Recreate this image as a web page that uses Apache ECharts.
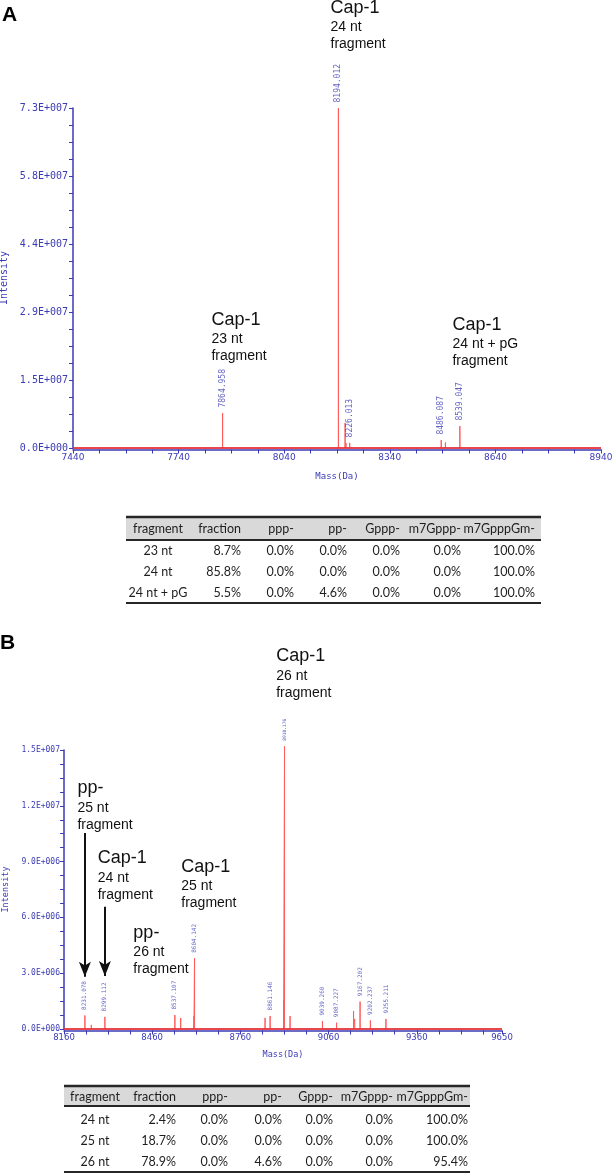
<!DOCTYPE html>
<html><head><meta charset="utf-8">
<script src="https://cdn.jsdelivr.net/npm/echarts@6/dist/echarts.min.js"></script>
<style>html,body{margin:0;padding:0;background:#fff}#c{width:614px;height:1175px}</style>
</head><body><div id="c"></div>
<script>
// ---------------- DATA : panel A ----------------
const massA       = [7864.958, 8194.012, 8213, 8216, 8226.013, 8486.087, 8498, 8539.047];
const intensityA  = [7.5e6,    7.3e7,    5.4e6, 1.0e6, 1.1e6,   1.7e6,    1.2e6, 4.7e6];
const peakLabelsA = ['7864.958','8194.012','','','8226.013','8486.087','','8539.047'];
const xTickLabelsA = ['7440','7740','8040','8340','8640','8940'];
const yTickLabelsA = ['0.0E+000','1.5E+007','2.9E+007','4.4E+007','5.8E+007','7.3E+007'];
const xMinA = 7440, xMaxA = 8940, yMaxA = 7.3e7, yStepA = 1.46e7;

// ---------------- DATA : panel B ----------------
const massB       = [8231.078, 8253, 8299.112, 8537.107, 8557, 8602, 8604.142, 8844, 8861.146, 8907, 8910.176, 8929, 9039.260, 9087.227, 9145, 9149, 9167.202, 9202.237, 9255.211];
const intensityB  = [7.3e5,    2.2e5, 6.5e5,   7.5e5,    5.9e5, 7.0e5, 3.8e6,   6.0e5, 7.0e5,    1.55e6, 1.52e7,  7.0e5, 4.3e5,    3.4e5,    9.7e5, 5.4e5, 1.47e6,   4.6e5,    5.4e5];
const peakLabelsB = ['8231.078','','8299.112','8537.107','','','8604.142','','8861.146','','8910.176','','9039.260','9087.227','','','9167.202','9202.237','9255.211'];
const xTickLabelsB = ['8160','8460','8760','9060','9360','9650'];
const yTickLabelsB = ['0.0E+000','3.0E+006','6.0E+006','9.0E+006','1.2E+007','1.5E+007'];
const xMinB = 8160, xMaxB = 9650, yMaxB = 1.5e7, yStepB = 3e6;

// ---------------- annotation texts ----------------
const annotTextA = [['Cap-1','24 nt','fragment'],['Cap-1','23 nt','fragment'],['Cap-1','24 nt + pG','fragment']];
const annotPeakA = ['8194.012','7864.958','8539.047'];
const annotTextB = [['pp-','25 nt','fragment'],['Cap-1','24 nt','fragment'],['Cap-1','25 nt','fragment'],['pp-','26 nt','fragment'],['Cap-1','26 nt','fragment']];
const annotPeakB = ['8231.078','8299.112','8604.142','8537.107','8910.176'];

// ---------------- tables ----------------
const tableHeader = ['fragment','fraction','ppp-','pp-','Gppp-','m7Gppp-','m7GpppGm-'];
const tableRowsA = [
  ['23 nt','8.7%','0.0%','0.0%','0.0%','0.0%','100.0%'],
  ['24 nt','85.8%','0.0%','0.0%','0.0%','0.0%','100.0%'],
  ['24 nt + pG','5.5%','0.0%','4.6%','0.0%','0.0%','100.0%']
];
const tableRowsB = [
  ['24 nt','2.4%','0.0%','0.0%','0.0%','0.0%','100.0%'],
  ['25 nt','18.7%','0.0%','0.0%','0.0%','0.0%','100.0%'],
  ['26 nt','78.9%','0.0%','4.6%','0.0%','0.0%','95.4%']
];

// ---------------- layout / style (not data) ----------------
const BLUE = '#3b3bb6', PEAK = '#ff5c5c', BASE = '#e1252d', INK = '#111111';
const layoutA = {grid:{left:73, top:108, width:528, height:340}, yFont:10, xFont:9, yName:10, xName:9,
  yNameGap:57, xNameGap:23, yMargin:5, xMargin:4, peakFont:8, peakGap:5,
  annotOffsets:[[-7.4,-110.6],[-10.6,-103.7],[-6.9,-111.7]], arrows:[]};
const layoutB = {grid:{left:64, top:750, width:438, height:279}, yFont:8, xFont:8.5, yName:8.5, xName:8.5,
  yNameGap:47, xNameGap:20, yMargin:4, xMargin:3, peakFont:6, peakGap:5, bigPeakFont:{'8910.176':4.6},
  annotOffsets:[[-7,-237.7],[-6.7,-169],[-12.8,-102],[-41,-92.8],[-7.8,-100.4]],
  arrows:[{peak:'8231.078', from:1.054e7, to:2.81e6},{peak:'8299.112', from:6.575e6, to:2.85e6}]};
const tableLayoutA = {left:126, right:541, top:517, headBottom:540, headCenter:529, firstRow:551, rowH:21, bottom:603, col0:158, colRight:[241,294,347,400,461,535]};
const tableLayoutB = {left:64, right:470, top:1086, headBottom:1106, headCenter:1097, firstRow:1120, rowH:21, bottom:1172, col0:95, colRight:[176,228,282,333,393,468]};

const grids = [], xAxes = [], yAxes = [], series = [];

function buildPanel(gi, mass, inten, labels, xMin, xMax, yMax, yStep, xTickLabels, yTickLabels, annotText, annotPeak, L) {
  const span = xMax - xMin;
  grids.push(Object.assign({containLabel:false, outerBoundsMode:'none'}, L.grid));
  xAxes.push({gridIndex:gi, type:'value', min:0, max:span, interval:300, offset:1.5,
    axisLine:{show:true, onZero:false, lineStyle:{color:BLUE, width:1.5}},
    axisTick:{show:true, length:4, lineStyle:{color:BLUE, width:1}},
    minorTick:{show:true, splitNumber:4, length:4, lineStyle:{color:BLUE, width:1}},
    splitLine:{show:false}, minorSplitLine:{show:false},
    axisLabel:{showMinLabel:true, showMaxLabel:true, margin:L.xMargin, color:BLUE, fontFamily:'DejaVu Sans', fontSize:L.xFont,
      formatter:v => xTickLabels[Math.round(v/300 - 0.0001)] ?? ''},
    name:'Mass(Da)', nameLocation:'middle', nameGap:L.xNameGap,
    nameTextStyle:{color:BLUE, fontFamily:'DejaVu Sans Mono', fontSize:L.xName}});
  yAxes.push({gridIndex:gi, type:'value', min:0, max:yMax, interval:yStep,
    axisLine:{show:true, onZero:false, lineStyle:{color:BLUE, width:1.5}},
    axisTick:{show:true, length:4, lineStyle:{color:BLUE, width:1}},
    minorTick:{show:true, splitNumber:4, length:4, lineStyle:{color:BLUE, width:1}},
    splitLine:{show:false}, minorSplitLine:{show:false},
    axisLabel:{showMinLabel:true, showMaxLabel:true, margin:L.yMargin, color:BLUE, fontFamily:'DejaVu Sans Mono', fontSize:L.yFont,
      formatter:v => yTickLabels[Math.round(v/yStep)] ?? ''},
    name:'Intensity', nameLocation:'middle', nameGap:L.yNameGap,
    nameTextStyle:{color:BLUE, fontFamily:'DejaVu Sans Mono', fontSize:L.yName}});

  // spectrum sticks
  const order = mass.map((m,i)=>i).sort((a,b)=>mass[a]-mass[b]);
  const pts = [[0,0]];
  order.forEach(i => { const x = mass[i]-xMin; pts.push([x,0],[x,inten[i]],[x,0]); });
  pts.push([span,0]);
  series.push({type:'line', xAxisIndex:gi, yAxisIndex:gi, data:pts, symbol:'none', clip:false, silent:true,
    lineStyle:{color:PEAK, width:1}, z:3, animation:false});
  series.push({type:'line', xAxisIndex:gi, yAxisIndex:gi, data:[[0,0],[span,0]], symbol:'none', clip:false, silent:true,
    lineStyle:{color:BASE, width:1.5}, z:4, animation:false});

  // peak mass labels
  const lab = [], labTxt = [];
  mass.forEach((m,i) => {
    if (!labels[i]) return;
    const fs = (L.bigPeakFont && L.bigPeakFont[labels[i]]) || L.peakFont;
    lab.push({value:[m-xMin, inten[i]], label:{fontSize:fs}});
    labTxt.push(labels[i]);
  });
  series.push({type:'scatter', xAxisIndex:gi, yAxisIndex:gi, data:lab, symbolSize:1, clip:false, silent:true,
    itemStyle:{color:'rgba(0,0,0,0)'}, z:5, animation:false,
    label:{show:true, position:'top', distance:L.peakGap, rotate:90, align:'left', verticalAlign:'middle',
      color:BLUE, fontFamily:'DejaVu Sans Mono', fontSize:L.peakFont, formatter:p => labTxt[p.dataIndex]}});

  // annotations (anchored to peaks)
  const ann = annotPeak.map((lbl,k) => {
    const i = labels.indexOf(lbl);
    return {value:[mass[i]-xMin, inten[i]], label:{position:L.annotOffsets[k]}};
  });
  const markData = L.arrows.map(a => {
    const i = labels.indexOf(a.peak);
    return [{coord:[mass[i]-xMin, a.from]}, {coord:[mass[i]-xMin, a.to]}];
  });
  series.push({type:'scatter', xAxisIndex:gi, yAxisIndex:gi, data:ann, symbolSize:1, clip:false, silent:true,
    itemStyle:{color:'rgba(0,0,0,0)'}, z:6, animation:false,
    label:{show:true, align:'left', verticalAlign:'top', color:INK, opacity:1,
      formatter:p => { const t = annotText[p.dataIndex]; return '{a|'+t[0]+'}\n{b|'+t[1]+'}\n{b|'+t[2]+'}'; },
      rich:{a:{fontSize:18, lineHeight:22, fontFamily:'Liberation Sans', color:INK},
            b:{fontSize:14, lineHeight:17, fontFamily:'Liberation Sans', color:INK}}},
    markLine: markData.length ? {silent:true, animation:false, symbol:['none','arrow'], symbolSize:[9,15],
      lineStyle:{color:INK, width:2, type:'solid', opacity:1}, label:{show:false}, data:markData} : undefined});
}

buildPanel(0, massA, intensityA, peakLabelsA, xMinA, xMaxA, yMaxA, yStepA, xTickLabelsA, yTickLabelsA, annotTextA, annotPeakA, layoutA);
buildPanel(1, massB, intensityB, peakLabelsB, xMinB, xMaxB, yMaxB, yStepB, xTickLabelsB, yTickLabelsB, annotTextB, annotPeakB, layoutB);

// ---------------- tables as graphic elements ----------------
function tableGraphics(header, rows, T) {
  const g = [];
  g.push({type:'rect', shape:{x:T.left, y:T.top, width:T.right-T.left, height:T.headBottom-T.top}, style:{fill:'#d9d9d9'}});
  const line = (y,w) => g.push({type:'line', shape:{x1:T.left, y1:y, x2:T.right, y2:y}, style:{stroke:'#262626', lineWidth:w}});
  line(T.top, 2.5); line(T.headBottom, 2); line(T.bottom, 2);
  const cell = (txt, c, y) => g.push({type:'text', x: c===0 ? T.col0 : T.colRight[c-1], y:y,
    style:{text:txt, fontFamily:'Lato', fontSize:12.5, fill:'#1e1e1e', align: c===0 ? 'center' : 'right', verticalAlign:'middle'}});
  header.forEach((h,c) => cell(h, c, T.headCenter));
  rows.forEach((r,ri) => r.forEach((v,c) => cell(v, c, T.firstRow + ri*T.rowH)));
  return g;
}
const graphics = [].concat(
  tableGraphics(tableHeader, tableRowsA, tableLayoutA),
  tableGraphics(tableHeader, tableRowsB, tableLayoutB),
  [{type:'text', x:2, y:5, style:{text:'A', fontFamily:'Liberation Sans', fontWeight:'bold', fontSize:21, fill:'#000', align:'left', verticalAlign:'top'}},
   {type:'text', x:0, y:633, style:{text:'B', fontFamily:'Liberation Sans', fontWeight:'bold', fontSize:21, fill:'#000', align:'left', verticalAlign:'top'}}]
);

const chart = echarts.init(document.getElementById('c'), null, {renderer:'canvas'});
chart.setOption({animation:false, backgroundColor:'#fff', grid:grids, xAxis:xAxes, yAxis:yAxes, series:series, graphic:graphics});
</script></body></html>
